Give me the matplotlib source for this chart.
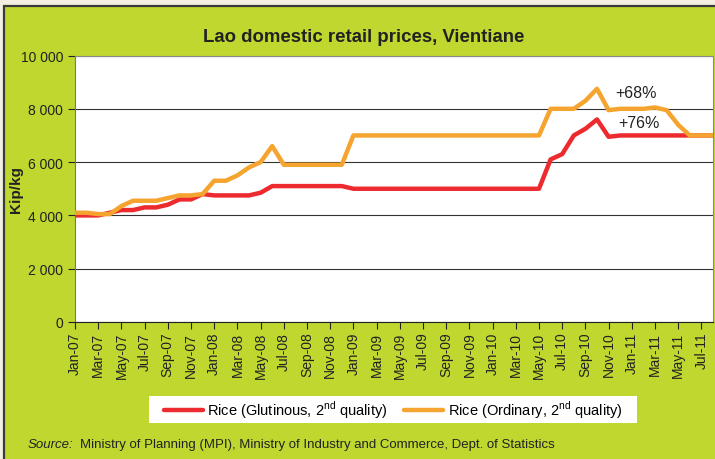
import numpy as np
import pandas as pd
import matplotlib
matplotlib.use("Agg")
import matplotlib.pyplot as plt
from matplotlib.patches import Rectangle
from matplotlib.ticker import FuncFormatter

plt.rcParams['font.family'] = ['Liberation Sans', 'DejaVu Sans']
plt.rcParams['mathtext.fontset'] = 'custom'
plt.rcParams['mathtext.rm'] = 'Liberation Sans'

# monthly categories Jan-07 .. Aug-11
months = list(pd.date_range("2007-01-01", "2011-08-01", freq="MS").strftime("%b-%y"))

# Kip/kg
glutinous = ([4000, 4000, 4000, 4100, 4200, 4200, 4300, 4300, 4400, 4600, 4600, 4800,
              4750, 4750, 4750, 4750, 4850, 5100, 5100, 5100, 5100, 5100, 5100, 5100]
             + [5000] * 17
             + [6100, 6300, 7000, 7250, 7600, 6950]
             + [7000] * 9)
ordinary = ([4100, 4100, 4050, 4050, 4350, 4550, 4550, 4550, 4650, 4750, 4750, 4800,
             5300, 5300, 5500, 5800, 6000, 6600, 5900, 5900, 5900, 5900, 5900, 5900]
            + [7000] * 17
            + [8000, 8000, 8000, 8300, 8750, 7950]
            + [8000, 8000, 8000, 8050, 7950, 7400, 7000, 7000, 7000])

labels = ["Rice (Glutinous, 2$^{\\mathrm{nd}}$ quality)",
          "Rice (Ordinary, 2$^{\\mathrm{nd}}$ quality)"]
changes = ["+68%", "+76%"]

RED = '#ED2B2E'
ORANGE = '#F5A42F'
GREEN = '#C0D72F'

W, H = 715, 460
fig = plt.figure(figsize=(W / 100, H / 100), dpi=100)
fig.patch.set_facecolor('#F3F0E2')

# green panel behind everything
fig.patches.append(Rectangle((4 / W, -0.02), 1.0, (H - 7) / H + 0.02,
                             transform=fig.transFigure, facecolor=GREEN,
                             edgecolor='#3a3a3a', linewidth=1.6, zorder=-10))

ax = fig.add_axes([75 / W, 1 - 323 / H, 638 / W, (323 - 56.5) / H])
ax.set_facecolor('white')

x = np.arange(len(months))
ax.plot(x, glutinous, color=RED, lw=3.2, solid_joinstyle='round', solid_capstyle='round',
        label=labels[0], zorder=3)
ax.plot(x, ordinary, color=ORANGE, lw=3.2, solid_joinstyle='round', solid_capstyle='round',
        label=labels[1], zorder=3)

ax.set_xlim(0, len(months) - 1)
ax.set_ylim(0, 10000)
ax.set_yticks(np.arange(0, 10001, 2000))
ax.yaxis.set_major_formatter(FuncFormatter(lambda v, p: f"{v:,.0f}".replace(",", " ")))
ax.set_xticks(x[::2])
ax.set_xticklabels(months[::2], rotation=90, fontsize=10, color='#222222')
ax.tick_params(axis='y', labelsize=10, labelcolor='#222222', length=5, width=0.8, color='#222222')
ax.tick_params(axis='x', length=5, width=0.8, color='#222222', pad=2)
ax.yaxis.grid(True, color='#333333', lw=0.8)
ax.set_axisbelow(True)
for s in ['top', 'right']:
    ax.spines[s].set_color('#8a8a8a')
ax.spines['left'].set_color('#777777')
ax.spines['bottom'].set_color('#222222')

ax.set_ylabel("Kip/kg", fontsize=11, fontweight='bold', color='#222222')
ax.yaxis.set_label_coords((23 - 75) / 638, 0.5)

ax.text(46.6, 8600, changes[0], fontsize=11.5, va='center', color='#222222')
ax.text(46.8, 7470, changes[1], fontsize=11.5, va='center', color='#222222')

fig.text(364 / W, 1 - 37 / H, "Lao domestic retail prices, Vientiane",
         ha='center', va='center', fontsize=13.4, fontweight='bold', color='#222222')

# legend box
fig.patches.append(Rectangle((149 / W, 1 - 424 / H), (637 - 149) / W, 27 / H,
                             transform=fig.transFigure, facecolor='white',
                             edgecolor='none', zorder=1))
fig.legend(loc='center', bbox_to_anchor=(393 / W, 1 - 410.5 / H), ncol=2, frameon=False,
           fontsize=10.5, handlelength=2.7, handletextpad=0.3, columnspacing=1.1)

fig.text(28 / W, 1 - 445 / H, "Source:", style='italic', fontsize=9.5, va='center', color='#222222')
fig.text(80 / W, 1 - 445 / H,
         "Ministry of Planning (MPI), Ministry of Industry and Commerce, Dept. of Statistics",
         fontsize=9.5, va='center', color='#222222')

fig.savefig("out.png", dpi=100, facecolor=fig.get_facecolor())
